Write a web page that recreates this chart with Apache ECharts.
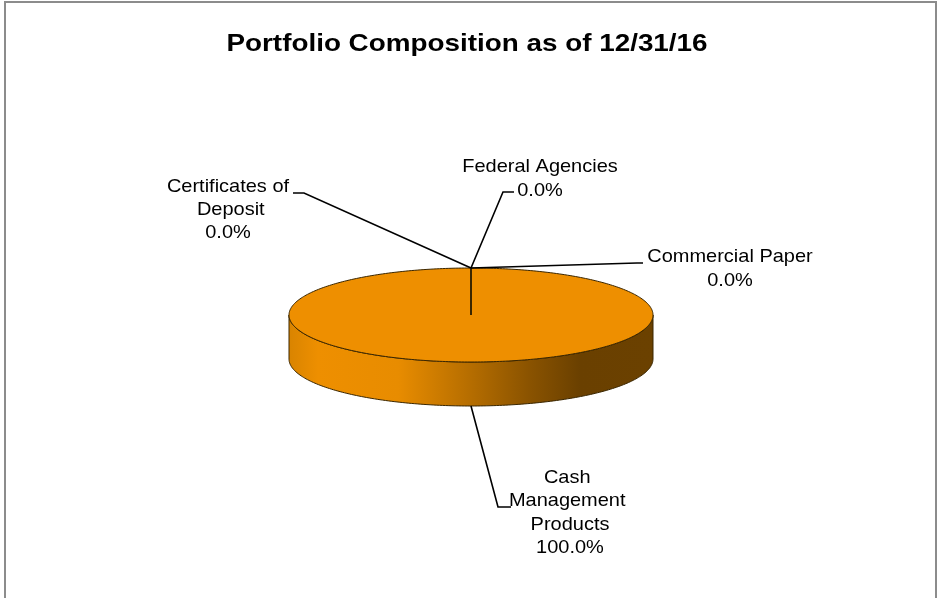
<!DOCTYPE html>
<html>
<head>
<meta charset="utf-8">
<title>Portfolio Composition as of 12/31/16</title>
<script src="https://cdn.jsdelivr.net/npm/echarts@6/dist/echarts.min.js"></script>
<style>
  html, body { margin: 0; padding: 0; background: #fff; }
  #chart { width: 938px; height: 598px; }
</style>
</head>
<body>
<div id="chart"></div>
<script>
// chart data
var titleText = 'Portfolio Composition as of 12/31/16';
var categories = ['Cash Management Products', 'Certificates of Deposit', 'Federal Agencies', 'Commercial Paper'];
var values = [100, 0, 0, 0];

// pie layout (3D look, drawn as ellipse + side band)
var pie = { cx: 471, cy: 315, rx: 182, ry: 47, depth: 44 };
// label boxes and where the leader line meets them
var labelLayout = [
  { x: 570, y: 513, width: 115, end: [511, 507], elbow: [498, 507] },
  { x: 228, y: 210, width: 118, end: [293, 193], elbow: [304, 193] },
  { x: 540, y: 179, width: 170, end: [514, 192], elbow: [503, 192] },
  { x: 730, y: 269, width: 175, end: [643, 263], elbow: [637, 263] }
];

var FONT = '"Liberation Sans", Arial, Helvetica, sans-serif';
var total = values.reduce(function (a, b) { return a + b; }, 0);

// angle in degrees, clockwise from 12 o'clock
function pt(deg, dy) {
  var r = deg * Math.PI / 180;
  return [pie.cx + pie.rx * Math.sin(r), pie.cy - pie.ry * Math.cos(r) + (dy || 0)];
}
function arc(a, b, dy) {
  var out = [];
  var n = Math.max(1, Math.ceil(Math.abs(b - a)));
  for (var k = 0; k <= n; k++) out.push(pt(a + (b - a) * k / n, dy));
  return out;
}

var sideGradient = new echarts.graphic.LinearGradient(pie.cx - pie.rx, 0, pie.cx + pie.rx, 0, [
  { offset: 0, color: '#D98400' },
  { offset: 0.08, color: '#EE8F00' },
  { offset: 0.3, color: '#E88C00' },
  { offset: 0.5, color: '#B56D00' },
  { offset: 0.66, color: '#8A5300' },
  { offset: 0.8, color: '#6A4000' },
  { offset: 1, color: '#6B4100' }
], true);

function renderSlice(params, api) {
  var i = params.dataIndex;
  var before = 0;
  for (var j = 0; j < i; j++) before += values[j];
  var start = before / total * 360;
  var end = (before + values[i]) / total * 360;
  var mid = (start + end) / 2;
  var children = [];

  // side band, front half only
  var a = Math.max(start, 90), b = Math.min(end, 270);
  if (b > a) {
    var side = arc(a, b, 0).concat(arc(b, a, pie.depth));
    children.push({
      type: 'polygon', z2: 1,
      shape: { points: side },
      style: { fill: sideGradient, stroke: '#3A2600', lineWidth: 1 }
    });
  }

  // top face
  var top = [[pie.cx, pie.cy]].concat(values[i] > 0 ? arc(start, end, 0) : [pt(start), pt(start)]);
  children.push({
    type: 'polygon', z2: values[i] > 0 ? 2 : 3,
    shape: { points: top },
    style: { fill: values[i] > 0 ? '#EE8F00' : 'none', stroke: '#3A2600', lineWidth: 1 }
  });

  // leader line
  var lay = labelLayout[i];
  var anchor = (mid > 90 && mid < 270) ? pt(mid, pie.depth) : pt(mid);
  children.push({
    type: 'polyline', z2: 4,
    shape: { points: [anchor, lay.elbow, lay.end] },
    style: { stroke: '#000', lineWidth: 1.6, fill: 'none' }
  });

  // label
  var pct = (values[i] / total * 100).toFixed(1) + '%';
  children.push({
    type: 'text', z2: 5,
    x: lay.x, y: lay.y, scaleX: 1.08,
    style: {
      text: categories[i] + '\n' + pct,
      width: lay.width, overflow: 'break',
      fontSize: 18.5, fontFamily: FONT, fill: '#000',
      lineHeight: 23.3, align: 'center', verticalAlign: 'middle'
    }
  });

  return { type: 'group', children: children };
}

var chart = echarts.init(document.getElementById('chart'));
chart.setOption({
  animation: false,
  backgroundColor: '#fff',
  graphic: [
    {
      type: 'rect', silent: true,
      shape: { x: 5, y: 2, width: 931, height: 650 },
      style: { fill: 'none', stroke: '#8C8C8C', lineWidth: 2 }
    },
    {
      type: 'text', silent: true,
      x: 467, y: 44, scaleX: 1.16,
      style: {
        text: titleText, fontSize: 24, fontWeight: 'bold', fontFamily: FONT,
        fill: '#000', align: 'center', verticalAlign: 'middle'
      }
    }
  ],
  series: [{
    type: 'custom',
    coordinateSystem: 'none',
    silent: true,
    renderItem: renderSlice,
    data: values.map(function (v, i) { return { name: categories[i], value: v }; })
  }]
});
</script>
</body>
</html>
